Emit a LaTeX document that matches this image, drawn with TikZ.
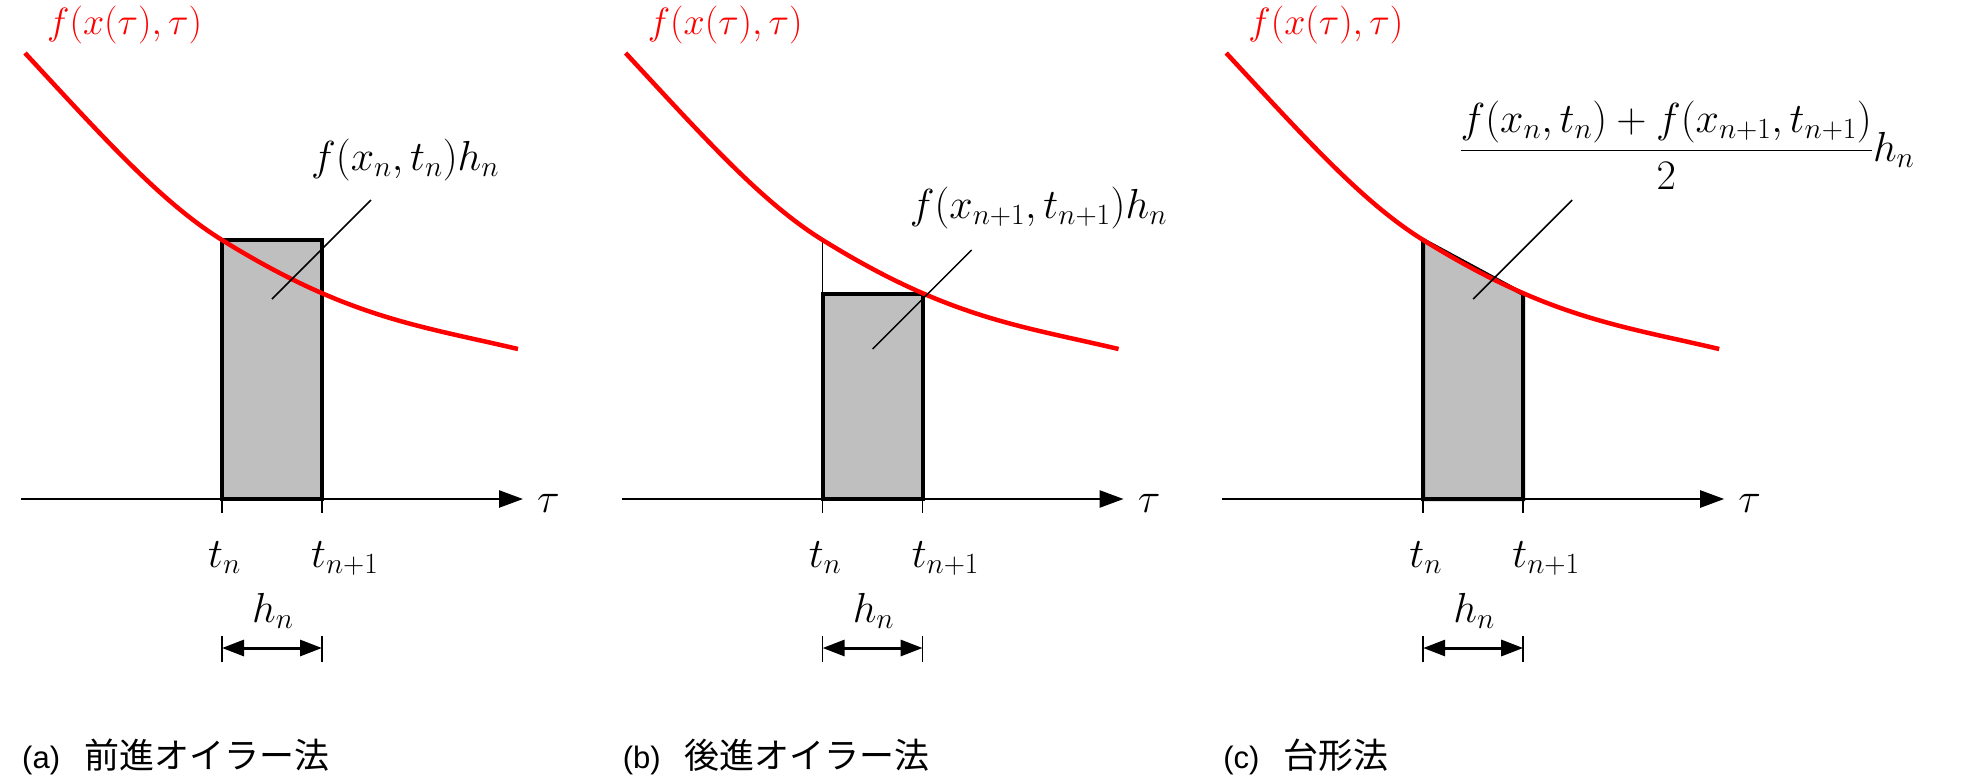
\RequirePackage{fix-cm}
\documentclass[tikz,border=0pt]{standalone}
\usepackage{fontspec}
\newfontfamily\jpfont{Noto Sans CJK JP}
\newfontfamily\capfont{Liberation Sans}
\usetikzlibrary{arrows.meta}
\definecolor{boxgray}{RGB}{191,191,191}
\tikzset{
  lbl/.style={font=\fontsize{42}{46}\selectfont, inner sep=0pt, anchor=base west},
  redlbl/.style={font=\fontsize{38}{42}\selectfont, inner sep=0pt, anchor=base west, text=red},
  captext/.style={font=\fontsize{35}{38}\selectfont, inner sep=0pt, anchor=base west},
  fcurve/.style={red, line width=4.5pt},
  boxarea/.style={draw=black, fill=boxgray, line width=4pt, line join=miter},
  thinline/.style={line width=1.5pt},
  axisline/.style={line width=2.5pt, -{Triangle[length=24pt,width=17pt]}},
  dimline/.style={line width=3pt, {Triangle[length=22pt,width=16pt]}-{Triangle[length=22pt,width=16pt]}},
}
\newcommand{\curvepath}{(25,53) .. controls (105,139.4) and (162,202.8) .. (222,240) .. controls (347,317.5) and (418,325.5) .. (518,349)}
\begin{document}
\begin{tikzpicture}[x=1pt, y=-1pt]
\useasboundingbox (0,0) rectangle (1968,774);
% ---------------- panel (a)
\begin{scope}
  \draw[boxarea] (222,240) rectangle (322,499);
  \coordinate (axa0) at (21,499); \coordinate (axa1) at (523,499);
  \draw[axisline] (axa0) -- (axa1);
  \draw[fcurve] \curvepath;
  \coordinate (tka0) at (222,499); \coordinate (tka1) at (222,513);
  \coordinate (tkb0) at (322,499); \coordinate (tkb1) at (322,513);
  \draw[thinline] (tka0) -- (tka1) (tkb0) -- (tkb1);
  \node[lbl] (taua) at (537,512) {$\tau$};
  \node[redlbl] (fa) at (47,34) {$f(x(\tau),\tau)$};
  \node[lbl] (la) at (311,170) {$f(x_n,t_n)h_n$};
  \coordinate (lda0) at (272,299); \coordinate (lda1) at (371,200);
  \draw[thinline] (lda0) -- (lda1);
  \node[lbl] (tna) at (208,567) {$t_n$};
  \node[lbl] (tn1a) at (311,567) {$t_{n+1}$};
  \node[lbl] (hna) at (252,622) {$h_n$};
  \coordinate (dma0) at (222,648); \coordinate (dma1) at (322,648);
  \draw[dimline] (dma0) -- (dma1);
  \draw[thinline] (222,636) -- (222,662) (322,636) -- (322,662);
  \node[captext] (capa) at (22,768) {{\capfont\fontsize{31}{36}\selectfont (a)}\hspace{24pt}{\jpfont 前進オイラー法}};
\end{scope}
% ---------------- panel (b)
\begin{scope}[xshift=600.6pt]
  \draw[boxarea] (222,294) rectangle (322,499);
  \draw[thinline] (222,240) -- (222,294);
  \coordinate (axb0) at (21,499); \coordinate (axb1) at (523,499);
  \draw[axisline] (axb0) -- (axb1);
  \draw[fcurve] \curvepath;
  \draw[thinline] (222,499) -- (222,513) (322,499) -- (322,513);
  \node[lbl] (taub) at (537,512) {$\tau$};
  \node[redlbl] (fb) at (47,34) {$f(x(\tau),\tau)$};
  \node[lbl] (lb) at (309,218) {$f(x_{n+1},t_{n+1})h_n$};
  \coordinate (ldb0) at (272,349); \coordinate (ldb1) at (371,250);
  \draw[thinline] (ldb0) -- (ldb1);
  \node[lbl] (tnb) at (208,567) {$t_n$};
  \node[lbl] (tn1b) at (311,567) {$t_{n+1}$};
  \node[lbl] (hnb) at (252,622) {$h_n$};
  \coordinate (dmb0) at (222,648); \coordinate (dmb1) at (322,648);
  \draw[dimline] (dmb0) -- (dmb1);
  \draw[thinline] (222,636) -- (222,662) (322,636) -- (322,662);
  \node[captext] (capb) at (22,768) {{\capfont\fontsize{31}{36}\selectfont (b)}\hspace{24pt}{\jpfont 後進オイラー法}};
\end{scope}
% ---------------- panel (c)
\begin{scope}[xshift=1201.2pt]
  \draw[boxarea] (222,499) -- (222,240) -- (322,294) -- (322,499) -- cycle;
  \coordinate (axc0) at (21,499); \coordinate (axc1) at (523,499);
  \draw[axisline] (axc0) -- (axc1);
  \draw[fcurve] \curvepath;
  \draw[thinline] (222,499) -- (222,513) (322,499) -- (322,513);
  \node[lbl] (tauc) at (537,512) {$\tau$};
  \node[redlbl] (fc) at (47,34) {$f(x(\tau),\tau)$};
  \node[lbl] (lc) at (258,161) {$\displaystyle\frac{f(x_n,t_n)+f(x_{n+1},t_{n+1})}{2}h_n$};
  \coordinate (ldc0) at (272,299); \coordinate (ldc1) at (371,200);
  \draw[thinline] (ldc0) -- (ldc1);
  \node[lbl] (tnc) at (208,567) {$t_n$};
  \node[lbl] (tn1c) at (311,567) {$t_{n+1}$};
  \node[lbl] (hnc) at (252,622) {$h_n$};
  \coordinate (dmc0) at (222,648); \coordinate (dmc1) at (322,648);
  \draw[dimline] (dmc0) -- (dmc1);
  \draw[thinline] (222,636) -- (222,662) (322,636) -- (322,662);
  \node[captext] (capc) at (22,768) {{\capfont\fontsize{31}{36}\selectfont (c)}\hspace{24pt}{\jpfont 台形法}};
\end{scope}
\end{tikzpicture}
\end{document}
